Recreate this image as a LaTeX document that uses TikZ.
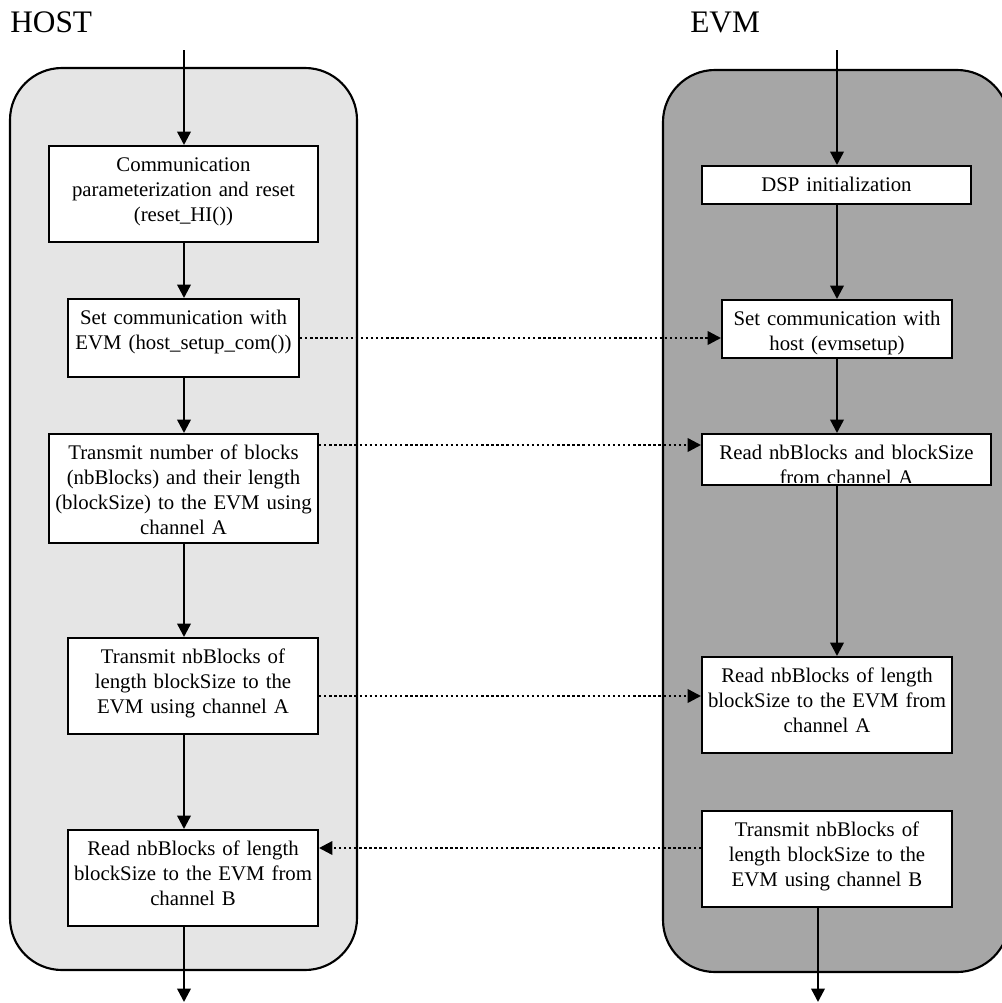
\documentclass[tikz,border=0pt]{standalone}
\usepackage{fontspec}
\setmainfont{Liberation Serif}
\usetikzlibrary{arrows.meta,positioning,calc}

\begin{document}
\begin{tikzpicture}[
	%	style def
	x=0.75pt, y=-0.75pt,
	panel line/.style={line width=1.6pt, rounded corners=39pt},
	flow line/.style={line width=1.8pt, -{Triangle[length=10pt,width=10pt]}},
	link line/.style={line width=1.8pt, dotted, -{Triangle[length=10pt,width=10pt]}},
	step box/.style 2 args={draw, fill=white, line width=1.5pt, inner sep=0pt, align=center,
		text width=#1, text height=18.75pt, text depth=#2, font=\fontsize{15.6}{18.75}\selectfont},
	side label/.style={anchor=base west, inner sep=0pt, font=\fontsize{23.5}{28}\selectfont}
	]
	\useasboundingbox (0,0) rectangle (1002,1003);
	\clip (0,0) rectangle (1002,1003);

	% the two sides
	\draw[panel line, fill=gray!20] (10,68) rectangle (357,970);
	\draw[panel line, fill=gray!70] (663,70) rectangle (1009,972);
	\node[side label] (host) at (10,32) {HOST};
	\node[side label] (evm) at (690,32) {EVM};

	% host steps
	\node[step box={201.75pt}{53.25pt}] (l1) at (183.5,194) {Communication\\parameterization and reset\\(reset\_HI())};
	\node[step box={173.25pt}{39.75pt}] (l2) at (183.5,338) {Set communication with\\EVM (host\_setup\_com())};
	\node[step box={201.75pt}{63pt}] (l3) at (183.5,488.5) {Transmit number of blocks\\(nbBlocks) and their length\\(blockSize) to the EVM using\\channel A};
	\node[step box={187.5pt}{53.25pt}] (l4) at (193,686) {Transmit nbBlocks of\\length blockSize to the\\EVM using channel A};
	\node[step box={187.5pt}{53.25pt}] (l5) at (193,878) {Read nbBlocks of length\\blockSize to the EVM from\\channel B};

	% evm steps
	\node[step box={201.75pt}{9.75pt}] (r1) at (836.5,185) {DSP initialization};
	\node[step box={172.5pt}{24.75pt}] (r2) at (837,329) {Set communication with\\host (evmsetup)};
	\node[step box={216.75pt}{19.5pt}] (r3) at (846.5,459.5) {};
	\begin{scope}
		% second line is cut by the box
		\clip (r3.north west) rectangle ([yshift=2.5pt]r3.south east);
		\node[step box={216.75pt}{19.5pt}, draw=none, fill=none] (r3text) at (r3) {Read nbBlocks and blockSize\\from channel A};
	\end{scope}
	\node[step box={187.5pt}{53.25pt}] (r4) at (827,705) {Read nbBlocks of length\\blockSize to the EVM from\\channel A};
	\node[step box={187.5pt}{53.25pt}] (r5) at (827,859) {Transmit nbBlocks of\\length blockSize to the\\EVM using channel B};

	% entry and exit points
	\coordinate (hostin) at (184,50);
	\coordinate (hostout) at (184,1002);
	\coordinate (evmin) at (837,50);
	\coordinate (evmout) at (818,1002);

	% host flow
	\draw[flow line] (hostin) -- (l1.north -| hostin);
	\draw[flow line] (l1.south -| hostin) -- (l2.north -| hostin);
	\draw[flow line] (l2.south -| hostin) -- (l3.north -| hostin);
	\draw[flow line] (l3.south -| hostin) -- (l4.north -| hostin);
	\draw[flow line] (l4.south -| hostin) -- (l5.north -| hostin);
	\draw[flow line] (l5.south -| hostout) -- (hostout);

	% evm flow
	\draw[flow line] (evmin) -- (r1.north -| evmin);
	\draw[flow line] (r1.south -| evmin) -- (r2.north -| evmin);
	\draw[flow line] (r2.south -| evmin) -- (r3.north -| evmin);
	\draw[flow line] (r3.south -| evmin) -- (r4.north -| evmin);
	\draw[flow line] (r5.south -| evmout) -- (evmout);

	% links between host and evm (dotted)
	\coordinate (d2) at ([yshift=-9pt]l3.north east);
	\coordinate (d3) at ([yshift=-7.5pt]l4.east);
	\coordinate (d4) at ([yshift=8.25pt]r5.west);
	\draw[link line] (l2.east) -- (l2.east -| r2.west);
	\draw[link line] (d2) -- (d2 -| r3.west);
	\draw[link line] (d3) -- (d3 -| r4.west);
	\draw[link line] (d4) -- (d4 -| l5.east);
\end{tikzpicture}
\end{document}
